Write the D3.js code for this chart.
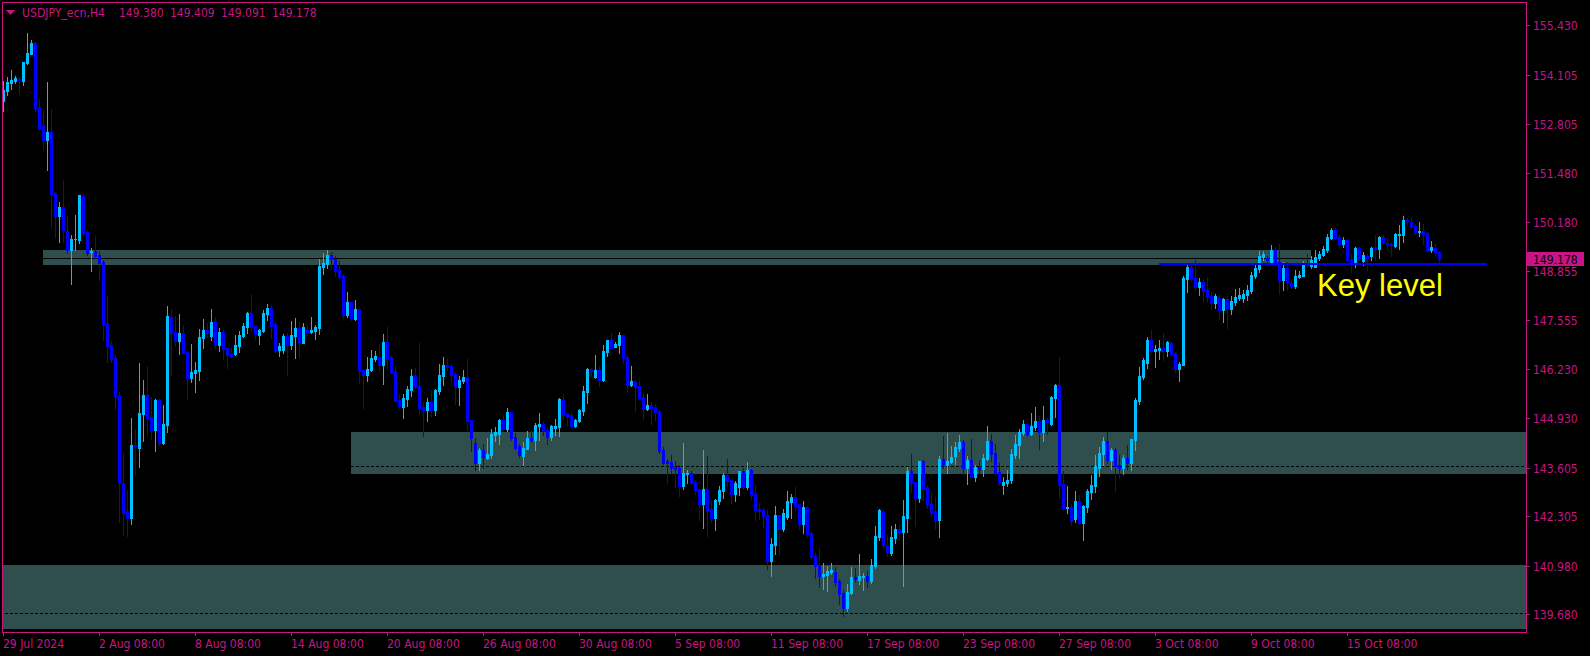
<!DOCTYPE html>
<html><head><meta charset="utf-8">
<script src="https://cdn.jsdelivr.net/npm/d3@7"></script>
<style>
html,body{margin:0;padding:0;background:#000;overflow:hidden}
svg{display:block}
</style></head><body>
<svg id="c" width="1590" height="656"></svg>
<script>
const symbolLabel = "USDJPY_ecn,H4";
const lastQuote = [149.380, 149.409, 149.091, 149.178];

const opens = [153.41,153.69,153.90,153.95,154.01,153.95,154.43,154.68,154.96,153.25,152.73,152.37,152.58,150.96,150.33,150.57,149.93,149.42,149.71,149.69,150.87,149.91,149.38,149.40,149.29,149.10,147.47,146.88,146.54,145.55,143.19,142.44,142.25,144.21,144.13,145.04,145.55,144.96,144.61,145.41,144.26,144.74,147.63,147.23,146.99,147.20,146.70,146.00,146.13,146.19,147.07,147.28,147.12,147.53,146.88,147.23,146.80,146.64,146.64,146.86,147.12,147.36,147.74,147.39,147.15,147.26,147.71,147.87,147.44,146.75,146.75,147.12,146.88,147.12,147.34,146.94,147.28,147.23,147.26,147.34,148.97,149.05,149.29,149.18,148.89,148.73,147.69,148.03,147.58,147.85,146.21,146.08,146.21,146.51,146.56,146.35,146.96,146.56,146.19,145.41,145.22,145.44,145.68,146.05,145.79,145.22,145.14,145.36,145.14,145.65,146.05,146.35,146.32,146.11,145.76,145.92,146.03,144.88,144.26,143.73,144.08,143.86,143.94,144.48,144.50,144.88,144.64,145.09,144.42,144.18,143.91,144.10,144.40,144.34,144.72,144.77,144.61,144.42,144.66,144.69,145.41,145.04,145.01,144.72,144.85,145.12,145.63,146.24,146.03,146.21,145.95,146.70,147.02,146.83,146.88,147.15,146.56,145.81,145.92,145.79,145.49,145.17,145.28,145.22,145.12,144.07,143.78,143.75,143.62,143.59,143.11,143.43,143.46,143.22,143.03,142.63,143.03,142.50,142.26,142.71,142.98,143.41,143.27,142.90,143.09,143.51,143.09,143.54,142.90,142.50,142.47,142.34,141.10,141.53,142.34,141.96,142.28,142.68,142.82,142.63,142.09,142.55,141.85,141.24,140.99,140.70,140.73,140.81,140.81,140.57,140.25,139.85,140.25,140.68,140.60,140.68,140.70,140.57,140.97,141.75,142.42,141.53,141.32,141.72,141.96,141.88,142.26,143.51,143.22,142.79,143.78,143.05,142.63,142.44,142.20,143.83,143.67,143.75,143.91,144.13,144.29,143.59,143.81,143.35,143.62,143.57,143.83,144.31,143.99,143.49,143.14,143.19,143.27,143.94,144.21,144.53,144.77,144.50,144.69,144.85,144.56,144.88,144.77,145.47,145.81,143.16,142.52,142.55,142.23,142.71,142.12,142.55,142.95,143.11,143.59,143.97,144.31,143.81,144.07,143.67,143.59,143.86,143.73,144.34,145.39,146.03,146.40,147.02,146.72,146.75,146.80,146.72,146.94,146.67,146.24,146.35,148.65,148.97,148.68,148.43,148.57,148.35,148.19,148.01,148.14,147.82,148.11,147.85,148.03,148.14,148.14,148.22,148.33,148.73,148.92,149.24,149.21,149.08,149.42,149.10,148.62,148.94,148.54,148.46,148.70,148.73,149.08,149.00,148.97,149.21,149.29,149.42,149.75,149.96,149.77,149.58,149.69,149.18,149.08,149.48,149.13,149.26,149.26,149.50,149.45,149.77,149.61,149.58,149.53,149.82,149.82,150.23,150.17,150.07,149.91,149.93,149.88,149.42,149.48,149.380];
const highs = [153.95,154.05,154.23,154.08,154.06,154.45,155.23,155.04,154.98,153.46,153.17,153.92,153.20,150.97,150.71,151.30,150.33,149.83,150.36,150.90,150.92,149.96,149.48,149.80,149.40,149.16,148.19,146.99,146.62,145.63,144.02,143.00,144.93,144.64,146.40,145.95,146.32,145.49,145.44,145.43,145.28,147.93,147.85,147.66,147.71,147.42,146.71,146.91,146.43,147.31,147.58,147.47,147.85,147.63,147.34,147.31,146.83,146.80,147.15,147.26,147.47,147.77,148.25,147.40,147.31,147.82,147.98,147.95,147.50,146.94,147.18,147.20,147.52,147.61,147.47,147.47,147.42,147.63,147.42,149.18,149.34,149.42,149.37,149.26,149.13,148.78,148.30,148.04,148.09,147.87,146.22,146.56,146.75,146.72,146.91,147.18,147.36,146.59,146.32,145.57,145.57,145.79,146.24,146.27,146.94,145.36,145.47,145.68,145.71,146.37,146.56,146.54,146.37,146.16,146.05,146.21,146.51,144.89,144.40,144.13,144.24,144.40,144.64,144.69,144.90,145.01,145.20,145.10,144.53,144.24,144.29,144.58,144.61,144.80,145.06,144.85,144.66,144.74,144.90,145.47,145.57,145.06,145.09,144.90,145.17,145.79,146.27,146.27,146.62,146.32,146.88,147.02,147.20,146.96,147.23,147.16,146.62,146.32,145.95,145.95,145.60,145.57,145.36,145.30,145.14,144.15,143.83,143.94,143.78,143.67,144.26,143.54,143.51,143.27,143.04,144.07,143.91,142.74,142.76,143.11,143.46,143.83,143.28,143.25,143.51,143.59,143.75,143.57,143.14,142.66,142.52,142.47,141.72,142.58,142.36,142.50,142.98,142.90,143.09,142.64,142.71,142.58,141.88,141.32,141.45,141.05,140.97,141.05,140.94,140.62,140.33,140.49,140.94,140.92,141.29,140.78,140.84,141.16,142.04,142.50,142.44,141.80,142.04,142.09,142.09,142.74,143.62,143.97,143.23,143.78,143.81,143.14,142.95,142.82,143.91,144.45,144.53,144.18,144.29,144.48,144.34,143.91,144.37,143.67,143.81,143.97,144.72,144.50,144.24,143.73,143.35,143.54,144.10,144.48,144.64,144.88,144.80,145.06,145.23,144.98,145.25,144.93,145.52,145.84,146.56,143.51,143.11,142.63,142.98,142.87,142.60,143.03,143.41,143.94,144.15,144.42,144.56,144.13,144.13,143.94,143.94,144.21,144.37,145.47,146.29,146.54,147.10,147.28,146.88,147.02,147.20,146.99,146.96,146.70,146.43,148.73,149.05,148.99,149.16,148.68,148.65,148.70,148.30,148.25,148.22,148.14,148.19,148.19,148.38,148.41,148.35,148.49,148.84,149.02,149.40,149.40,149.26,149.56,149.50,149.58,149.10,149.10,148.62,148.89,148.86,149.13,149.32,149.26,149.42,149.40,149.53,149.85,150.01,150.01,149.82,149.77,149.72,149.32,149.50,149.50,149.37,149.32,149.50,149.82,149.80,149.82,149.69,149.61,149.88,150.09,150.33,150.28,150.31,150.12,150.17,150.12,149.91,149.66,149.58,149.409];
const lows = [153.14,153.57,153.73,153.90,153.61,153.84,154.39,154.68,153.14,152.64,152.10,151.56,150.04,149.77,149.64,149.63,149.34,148.52,149.42,149.61,149.83,149.29,148.86,149.26,148.62,147.02,146.43,146.43,145.17,142.15,141.80,141.77,142.09,143.41,143.62,144.31,144.48,144.37,144.05,144.18,144.24,144.56,146.08,146.86,146.64,146.67,145.44,145.89,145.63,145.95,146.80,147.10,147.02,146.80,146.72,146.51,146.27,146.56,146.62,146.70,147.10,147.20,147.26,147.04,146.91,147.23,147.55,147.07,146.70,146.59,146.67,146.08,146.78,146.54,146.56,146.93,147.15,147.20,147.04,147.18,148.78,148.94,148.92,148.73,148.65,147.61,147.63,147.55,147.55,145.87,145.20,145.92,146.19,146.45,146.19,145.84,146.24,146.13,145.39,145.20,144.93,145.25,145.52,145.73,145.04,144.45,144.85,144.98,145.01,145.57,145.81,146.21,145.89,145.31,145.28,145.87,144.61,144.05,143.54,143.54,143.59,143.83,143.86,144.31,144.24,144.58,144.58,144.34,144.10,143.89,143.67,144.10,144.29,144.08,144.34,144.48,144.24,144.34,144.48,144.45,144.90,144.74,144.66,144.69,144.82,145.01,145.33,146.05,146.00,145.79,145.92,146.59,146.80,146.83,146.67,146.40,145.63,145.79,145.12,145.44,144.90,145.14,144.77,144.88,143.99,143.70,143.19,143.43,143.09,142.84,143.03,143.19,143.16,142.90,142.20,141.99,141.77,142.15,141.93,142.63,142.79,143.11,142.66,142.71,142.87,143.03,143.03,142.76,142.20,142.23,142.01,140.89,140.70,141.29,141.26,141.91,142.23,142.26,142.47,141.96,141.85,141.75,141.16,140.65,140.41,140.36,140.30,140.76,140.44,139.95,139.63,139.77,140.22,140.57,140.49,140.33,140.41,140.52,140.92,141.67,141.45,141.24,141.27,141.59,141.69,140.44,141.88,142.95,142.04,142.68,142.74,142.52,142.31,141.96,141.75,143.59,143.46,143.73,143.70,144.05,143.43,143.16,143.33,143.25,143.46,143.38,143.81,143.78,143.41,143.14,142.90,143.11,143.19,143.86,143.86,144.48,144.45,144.48,144.61,144.10,144.31,144.50,144.74,144.96,142.79,142.47,142.39,142.07,142.15,142.09,141.67,142.42,142.76,142.95,143.38,143.67,143.73,143.57,142.98,143.33,143.43,143.57,143.54,144.07,145.31,145.97,146.27,146.67,146.29,146.51,146.48,146.59,146.62,146.16,145.92,146.34,148.30,148.60,148.35,148.22,148.06,148.03,147.85,147.87,147.58,147.50,147.34,147.71,147.95,148.09,148.03,148.09,148.27,148.68,148.84,149.16,149.02,149.05,149.02,148.25,148.35,148.35,148.41,148.41,148.68,148.73,148.97,148.94,148.97,149.16,149.26,149.37,149.72,149.72,149.56,149.50,149.13,148.84,148.97,149.16,149.02,148.89,149.16,149.16,149.21,149.58,149.45,149.26,149.50,149.45,149.64,150.09,150.01,149.85,149.80,149.58,149.40,149.37,149.26,149.091];
const closes = [153.70,153.91,153.97,154.03,153.97,154.45,154.69,154.96,153.23,152.70,152.37,152.58,150.92,150.33,150.57,149.96,149.42,149.72,149.72,150.90,149.88,149.34,149.40,149.26,149.08,147.44,146.86,146.51,145.52,143.19,142.39,142.25,144.21,144.18,145.06,145.55,144.93,144.61,145.41,144.26,144.77,147.66,147.20,146.99,147.20,146.67,146.00,146.16,146.21,147.10,147.28,147.20,147.50,146.88,147.23,146.78,146.62,146.59,146.88,147.15,147.39,147.74,147.36,147.18,147.28,147.74,147.87,147.39,146.72,146.86,147.12,146.88,147.15,147.34,146.94,147.36,147.23,147.28,147.36,148.99,149.08,149.29,149.18,148.86,148.70,147.69,148.03,147.61,147.85,146.19,146.08,146.24,146.54,146.59,146.35,146.96,146.51,146.16,145.39,145.25,145.47,145.71,146.05,145.79,145.20,145.14,145.36,145.14,145.68,146.08,146.35,146.29,146.08,145.76,145.95,146.03,144.85,144.40,143.73,144.08,143.89,143.97,144.50,144.56,144.88,144.64,145.09,144.40,144.13,143.94,144.13,144.40,144.34,144.74,144.77,144.58,144.42,144.72,144.72,145.44,145.01,144.98,144.72,144.88,145.14,145.65,146.24,146.19,146.21,145.95,146.72,147.02,146.80,146.91,147.15,146.54,145.81,145.92,145.76,145.47,145.17,145.28,145.20,145.09,144.05,143.73,143.73,143.59,143.57,143.11,143.46,143.46,143.19,143.00,142.63,143.03,142.44,142.26,142.74,143.00,143.41,143.25,142.90,143.19,143.51,143.09,143.54,142.87,142.47,142.44,142.31,141.10,141.56,142.34,141.96,142.39,142.71,142.82,142.58,142.09,142.55,141.83,141.21,140.97,140.70,140.76,140.83,140.86,140.54,140.22,139.85,140.28,140.68,140.62,140.70,140.70,140.57,140.99,141.77,142.47,141.53,141.35,141.75,141.96,141.88,142.31,143.51,143.19,142.79,143.78,143.03,142.63,142.42,142.20,143.83,143.67,143.78,143.89,144.15,144.29,143.59,143.81,143.35,143.62,143.57,143.86,144.31,143.97,143.46,143.22,143.22,143.27,143.97,144.24,144.56,144.77,144.50,144.72,144.85,144.56,144.88,144.82,145.49,145.81,143.14,142.52,142.55,142.18,142.71,142.12,142.58,142.98,143.14,143.65,143.99,144.31,143.81,144.07,143.65,143.59,143.86,143.73,144.37,145.41,146.05,146.48,147.02,146.72,146.78,146.80,146.72,146.96,146.64,146.24,146.38,148.68,148.97,148.65,148.43,148.57,148.33,148.17,148.01,148.19,147.82,148.11,147.85,148.06,148.17,148.22,148.25,148.35,148.76,148.94,149.26,149.32,149.16,149.42,149.10,148.62,148.94,148.57,148.46,148.73,148.76,149.08,149.02,149.16,149.24,149.32,149.45,149.77,149.96,149.75,149.58,149.69,149.16,149.08,149.48,149.18,149.29,149.21,149.48,149.45,149.77,149.64,149.58,149.56,149.85,149.85,150.23,150.20,150.04,149.91,149.93,149.85,149.42,149.50,149.37,149.178];

const priceTicks = [155.430,154.105,152.805,151.480,150.180,148.855,147.555,146.230,144.930,143.605,142.305,140.980,139.680];
const timeLabels = ["29 Jul 2024","2 Aug 08:00","8 Aug 08:00","14 Aug 08:00","20 Aug 08:00","26 Aug 08:00","30 Aug 08:00","5 Sep 08:00","11 Sep 08:00","17 Sep 08:00","23 Sep 08:00","27 Sep 08:00","3 Oct 08:00","9 Oct 08:00","15 Oct 08:00"];
const timeLabelBars = [0,24,48,72,96,120,144,168,192,216,240,264,288,312,336];

const zoneTop = [149.43, 144.56, 141.00];
const zoneBottom = [149.02, 143.44, 139.29];
const zoneMid = [149.20, 143.65, 139.71];
const zoneFromBar = [10, 87, -2];
const zoneToBar = [327, 420, 420];

const keyLevelPrice = 149.05;
const keyLevelFromBar = 289;
const keyLevelToBar = 371;
const keyLevelText = "Key level";

// ---------- drawing ----------
const W = 1590, H = 656;
const PL = 2, PR = 1526, PT = 2, PB = 632;
const PINK = "#C71585", BULL = "#00BFFF", BEAR = "#0000FF", ZONE = "#2F4F4F";
const FONT = "'DejaVu Sans Condensed', 'DejaVu Sans', sans-serif";
const FS = 12;

const n = closes.length;
const x = d3.scaleLinear().domain([0, n - 1]).range([3, 3 + 4 * (n - 1)]);
const y = d3.scaleLinear().domain([139.206, 156.058]).range([PB, PT]);

const svg = d3.select("#c");
svg.append("rect").attr("width", W).attr("height", H).attr("fill", "#000");

svg.append("defs").append("clipPath").attr("id", "plot")
  .append("rect").attr("x", PL + 1).attr("y", PT + 1).attr("width", PR - PL - 1).attr("height", PB - PT - 1);

const plot = svg.append("g").attr("clip-path", "url(#plot)").attr("shape-rendering", "crispEdges");

// zones
const zi = d3.range(zoneTop.length);
plot.selectAll("rect.zone").data(zi).join("rect").attr("class", "zone")
  .attr("x", i => Math.round(x(zoneFromBar[i])))
  .attr("width", i => Math.round(x(zoneToBar[i])) - Math.round(x(zoneFromBar[i])))
  .attr("y", i => Math.round(y(zoneTop[i])))
  .attr("height", i => Math.round(y(zoneBottom[i])) - Math.round(y(zoneTop[i])))
  .attr("fill", ZONE);
plot.selectAll("line.mid").data(zi).join("line").attr("class", "mid")
  .attr("x1", i => Math.round(x(zoneFromBar[i])))
  .attr("x2", i => Math.round(x(zoneToBar[i])))
  .attr("y1", i => Math.round(y(zoneMid[i])) + 0.5)
  .attr("y2", i => Math.round(y(zoneMid[i])) + 0.5)
  .attr("stroke", "#000").attr("stroke-width", 1)
  .attr("stroke-dasharray", i => i === 0 ? null : "3,2");

// candles
const idx = d3.range(n);
const g = plot.append("g");
g.selectAll("rect.wick").data(idx).join("rect").attr("class", "wick")
  .attr("x", i => x(i))
  .attr("width", 1)
  .attr("y", i => Math.round(y(highs[i])))
  .attr("height", i => Math.round(y(lows[i])) - Math.round(y(highs[i])) + 1)
  .attr("fill", i => closes[i] >= opens[i] ? BULL : BEAR);
g.selectAll("rect.body").data(idx).join("rect").attr("class", "body")
  .attr("x", i => x(i) - 1)
  .attr("width", 3)
  .attr("y", i => Math.round(y(Math.max(opens[i], closes[i]))))
  .attr("height", i => Math.max(1, Math.round(y(Math.min(opens[i], closes[i]))) - Math.round(y(Math.max(opens[i], closes[i]))) + 1))
  .attr("fill", i => closes[i] >= opens[i] ? BULL : BEAR);

// key level
plot.append("rect")
  .attr("x", x(keyLevelFromBar)).attr("width", x(keyLevelToBar) - x(keyLevelFromBar))
  .attr("y", Math.round(y(keyLevelPrice)) - 1).attr("height", 2)
  .attr("fill", BEAR);
svg.append("text").text(keyLevelText)
  .attr("x", x(328.5)).attr("y", y(148.15) - 2)
  .attr("font-family", "'Liberation Sans', Arial, sans-serif").attr("font-size", 31)
  .attr("fill", "#FFFF00");

// frame
svg.append("rect").attr("x", PL + 0.5).attr("y", PT + 0.5)
  .attr("width", PR - PL).attr("height", PB - PT)
  .attr("fill", "none").attr("stroke", PINK).attr("stroke-width", 1).attr("shape-rendering", "crispEdges");

// price axis
const yAxis = svg.append("g");
priceTicks.forEach(p => {
  const yy = Math.round(y(p)) + 0.5;
  yAxis.append("line").attr("x1", PR).attr("x2", PR + 4).attr("y1", yy).attr("y2", yy)
    .attr("stroke", PINK).attr("shape-rendering", "crispEdges");
  yAxis.append("text").text(p.toFixed(3)).attr("x", PR + 7).attr("y", yy + 4.5)
    .attr("font-family", FONT).attr("font-size", FS).attr("fill", PINK);
});

// current price label
const last = lastQuote[3];
const ly = Math.round(y(last));
svg.append("rect").attr("x", PR + 1).attr("y", ly - 7).attr("width", 57).attr("height", 14).attr("fill", PINK);
svg.append("text").text(last.toFixed(3)).attr("x", PR + 7).attr("y", ly + 4.5)
  .attr("font-family", FONT).attr("font-size", FS).attr("fill", "#000");

// time axis
const xAxis = svg.append("g");
timeLabels.forEach((t, k) => {
  const xx = Math.round(x(timeLabelBars[k])) + 0.5;
  xAxis.append("line").attr("x1", xx).attr("x2", xx).attr("y1", PB).attr("y2", PB + 4)
    .attr("stroke", PINK).attr("shape-rendering", "crispEdges");
  xAxis.append("text").text(t).attr("x", xx - 0.5).attr("y", PB + 16)
    .attr("font-family", FONT).attr("font-size", FS).attr("fill", PINK);
});

// header
svg.append("path").attr("d", "M6,10 L15,10 L10.5,15 Z").attr("fill", PINK);
const header = svg.append("g").attr("font-family", FONT).attr("font-size", FS).attr("fill", PINK);
header.append("text").text(symbolLabel).attr("x", 22).attr("y", 16.5)
  .attr("textLength", 83).attr("lengthAdjust", "spacingAndGlyphs");
lastQuote.forEach((v, k) => {
  header.append("text").text(v.toFixed(3)).attr("x", 119 + k * 51).attr("y", 16.5);
});
</script>
</body></html>
